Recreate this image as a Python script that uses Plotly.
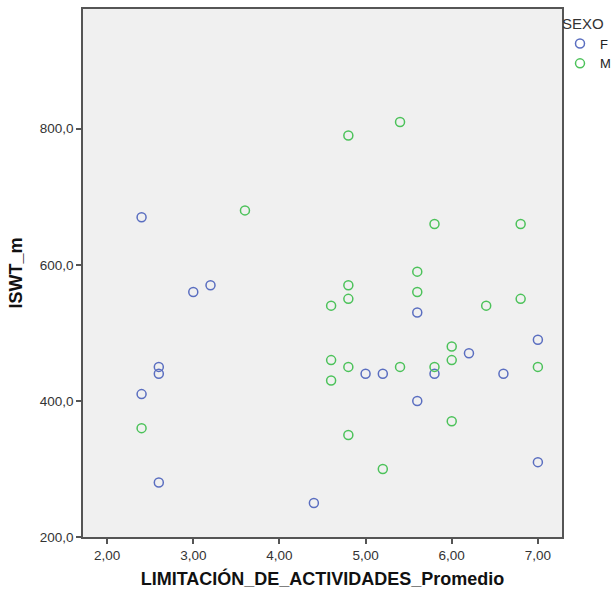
import plotly.graph_objects as go

# Female (F)
f_x = [2.4, 3.0, 3.2, 2.6, 2.6, 2.4, 2.6, 4.4, 5.0, 5.2, 5.6, 5.6, 5.8, 6.2, 6.6, 7.0, 7.0]
f_y = [670, 560, 570, 450, 440, 410, 280, 250, 440, 440, 530, 400, 440, 470, 440, 490, 310]

# Male (M)
m_x = [2.4, 3.6, 4.8, 5.4, 5.8, 6.8, 5.6, 4.8, 5.6, 4.6, 4.8, 6.4, 6.8, 6.0, 4.6, 6.0,
       4.8, 5.4, 5.8, 7.0, 4.6, 6.0, 4.8, 5.2]
m_y = [360, 680, 790, 810, 660, 660, 590, 570, 560, 540, 550, 540, 550, 480, 460, 460,
       450, 450, 450, 450, 430, 370, 350, 300]

x_ticks = [2, 3, 4, 5, 6, 7]
y_ticks = [200, 400, 600, 800]

W, H = 616, 595
L, R, T, B = 83, 0, 9, 58
plot_right = 562
dom_end = (plot_right - L) / (W - L - R)

fig = go.Figure()
fig.add_trace(go.Scatter(x=f_x, y=f_y, mode="markers", name="F",
                         marker=dict(symbol="circle-open", size=9, color="#5a6ec0",
                                     line=dict(width=1.5, color="#5a6ec0"))))
fig.add_trace(go.Scatter(x=m_x, y=m_y, mode="markers", name="M",
                         marker=dict(symbol="circle-open", size=9, color="#4cc25a",
                                     line=dict(width=1.5, color="#4cc25a"))))

axis_common = dict(showgrid=False, zeroline=False, showline=True, linecolor="#555555",
                   linewidth=1.5, mirror=True, ticks="outside", ticklen=5, tickwidth=1.5,
                   tickcolor="#555555",
                   tickfont=dict(family="Liberation Sans, Arial", size=13.5, color="#333333"))

fig.update_layout(
    width=W, height=H,
    margin=dict(l=L, r=R, t=T, b=B),
    paper_bgcolor="white", plot_bgcolor="#f0f0f0",
    separators=",.",
    font=dict(family="Liberation Sans, Arial", color="#222222"),
    xaxis=dict(domain=[0, dom_end], range=[1.72, 7.28], tickvals=x_ticks, tickformat=".2f",
               title=dict(text="<b>LIMITACIÓN_DE_ACTIVIDADES_Promedio</b>",
                          font=dict(size=18, color="#111111"), standoff=10),
               **axis_common),
    yaxis=dict(range=[200, 976], tickvals=y_ticks, tickformat=".1f",
               title=dict(text="<b>ISWT_m</b>", font=dict(size=18, color="#111111"), standoff=12),
               **axis_common),
    legend=dict(title=dict(text="SEXO", font=dict(size=15, color="#333333")),
                x=1.0, xanchor="right", y=1.0, yanchor="top",
                font=dict(size=13, color="#222222"), itemwidth=30,
                bgcolor="rgba(0,0,0,0)", tracegroupgap=0),
    showlegend=True,
)

fig.write_html("out.html")
